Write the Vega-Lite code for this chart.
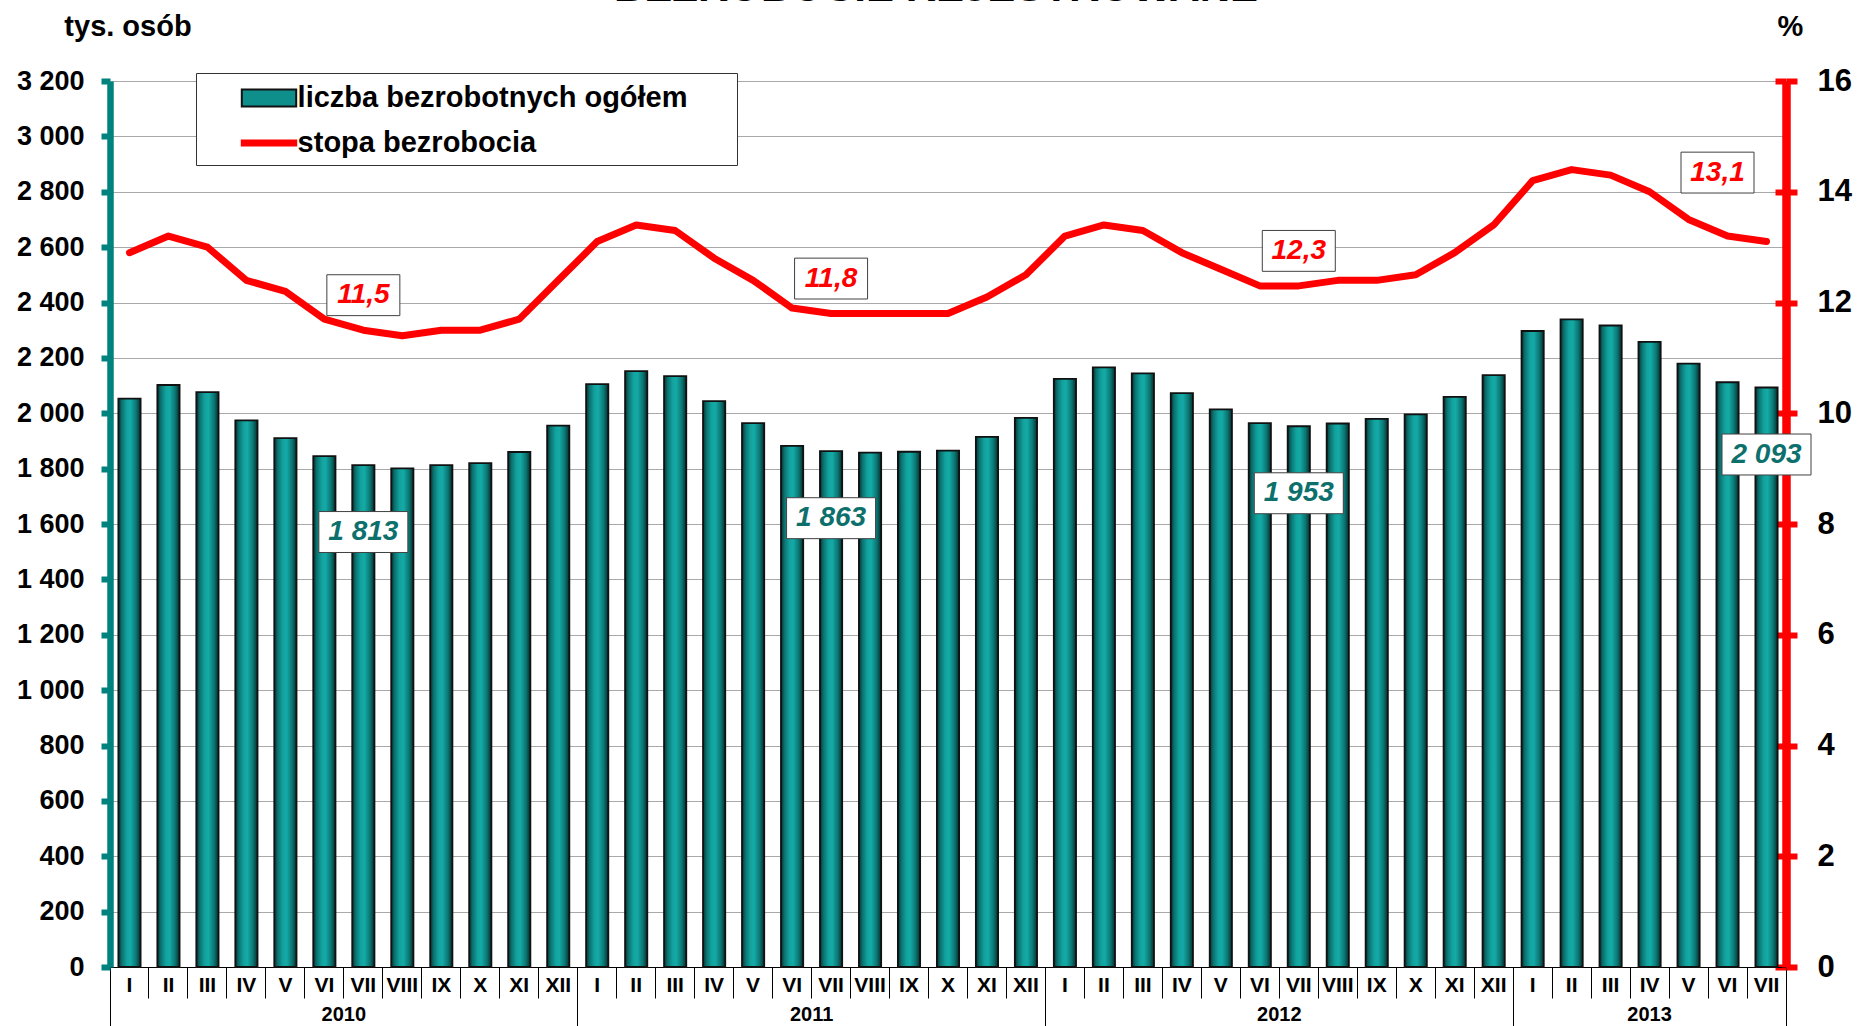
{
  "$schema": "https://vega.github.io/schema/vega-lite/v6.json",
  "width": 1676,
  "height": 886,
  "autosize": {"type": "none"},
  "padding": {"left": 110, "top": 81, "right": 72, "bottom": 59},
  "background": "white",
  "title": {"text": "BEZROBOCIE REJESTROWANE", "fontSize": 42, "fontWeight": "bold", "color": "black", "anchor": "middle", "dx": -12, "offset": 2},
  "config": {
    "font": "Liberation Sans",
    "view": {"stroke": null},
    "locale": {"number": {"decimal": ",", "thousands": " ", "grouping": [3], "currency": ["", " zł"]}},
    "axis": {"labelFontWeight": "bold", "labelColor": "black", "titleFontWeight": "bold", "titleColor": "black", "labelOverlap": false, "labelBound": false, "labelFlush": false}
  },
  "datasets": {
    "dane": [
      {"okres": "2010 I", "rok": "2010", "mies": "I", "liczba": 2053, "stopa": 12.9},
      {"okres": "2010 II", "rok": "2010", "mies": "II", "liczba": 2102, "stopa": 13.2},
      {"okres": "2010 III", "rok": "2010", "mies": "III", "liczba": 2076, "stopa": 13.0},
      {"okres": "2010 IV", "rok": "2010", "mies": "IV", "liczba": 1974, "stopa": 12.4},
      {"okres": "2010 V", "rok": "2010", "mies": "V", "liczba": 1910, "stopa": 12.2},
      {"okres": "2010 VI", "rok": "2010", "mies": "VI", "liczba": 1845, "stopa": 11.7},
      {"okres": "2010 VII", "rok": "2010", "mies": "VII", "liczba": 1813, "stopa": 11.5},
      {"okres": "2010 VIII", "rok": "2010", "mies": "VIII", "liczba": 1801, "stopa": 11.4},
      {"okres": "2010 IX", "rok": "2010", "mies": "IX", "liczba": 1813, "stopa": 11.5},
      {"okres": "2010 X", "rok": "2010", "mies": "X", "liczba": 1820, "stopa": 11.5},
      {"okres": "2010 XI", "rok": "2010", "mies": "XI", "liczba": 1860, "stopa": 11.7},
      {"okres": "2010 XII", "rok": "2010", "mies": "XII", "liczba": 1955, "stopa": 12.4},
      {"okres": "2011 I", "rok": "2011", "mies": "I", "liczba": 2105, "stopa": 13.1},
      {"okres": "2011 II", "rok": "2011", "mies": "II", "liczba": 2152, "stopa": 13.4},
      {"okres": "2011 III", "rok": "2011", "mies": "III", "liczba": 2134, "stopa": 13.3},
      {"okres": "2011 IV", "rok": "2011", "mies": "IV", "liczba": 2044, "stopa": 12.8},
      {"okres": "2011 V", "rok": "2011", "mies": "V", "liczba": 1964, "stopa": 12.4},
      {"okres": "2011 VI", "rok": "2011", "mies": "VI", "liczba": 1882, "stopa": 11.9},
      {"okres": "2011 VII", "rok": "2011", "mies": "VII", "liczba": 1863, "stopa": 11.8},
      {"okres": "2011 VIII", "rok": "2011", "mies": "VIII", "liczba": 1858, "stopa": 11.8},
      {"okres": "2011 IX", "rok": "2011", "mies": "IX", "liczba": 1861, "stopa": 11.8},
      {"okres": "2011 X", "rok": "2011", "mies": "X", "liczba": 1865, "stopa": 11.8},
      {"okres": "2011 XI", "rok": "2011", "mies": "XI", "liczba": 1915, "stopa": 12.1},
      {"okres": "2011 XII", "rok": "2011", "mies": "XII", "liczba": 1983, "stopa": 12.5},
      {"okres": "2012 I", "rok": "2012", "mies": "I", "liczba": 2124, "stopa": 13.2},
      {"okres": "2012 II", "rok": "2012", "mies": "II", "liczba": 2166, "stopa": 13.4},
      {"okres": "2012 III", "rok": "2012", "mies": "III", "liczba": 2144, "stopa": 13.3},
      {"okres": "2012 IV", "rok": "2012", "mies": "IV", "liczba": 2073, "stopa": 12.9},
      {"okres": "2012 V", "rok": "2012", "mies": "V", "liczba": 2014, "stopa": 12.6},
      {"okres": "2012 VI", "rok": "2012", "mies": "VI", "liczba": 1964, "stopa": 12.3},
      {"okres": "2012 VII", "rok": "2012", "mies": "VII", "liczba": 1953, "stopa": 12.3},
      {"okres": "2012 VIII", "rok": "2012", "mies": "VIII", "liczba": 1963, "stopa": 12.4},
      {"okres": "2012 IX", "rok": "2012", "mies": "IX", "liczba": 1980, "stopa": 12.4},
      {"okres": "2012 X", "rok": "2012", "mies": "X", "liczba": 1996, "stopa": 12.5},
      {"okres": "2012 XI", "rok": "2012", "mies": "XI", "liczba": 2059, "stopa": 12.9},
      {"okres": "2012 XII", "rok": "2012", "mies": "XII", "liczba": 2138, "stopa": 13.4},
      {"okres": "2013 I", "rok": "2013", "mies": "I", "liczba": 2297, "stopa": 14.2},
      {"okres": "2013 II", "rok": "2013", "mies": "II", "liczba": 2339, "stopa": 14.4},
      {"okres": "2013 III", "rok": "2013", "mies": "III", "liczba": 2317, "stopa": 14.3},
      {"okres": "2013 IV", "rok": "2013", "mies": "IV", "liczba": 2258, "stopa": 14.0},
      {"okres": "2013 V", "rok": "2013", "mies": "V", "liczba": 2179, "stopa": 13.5},
      {"okres": "2013 VI", "rok": "2013", "mies": "VI", "liczba": 2112, "stopa": 13.2},
      {"okres": "2013 VII", "rok": "2013", "mies": "VII", "liczba": 2093, "stopa": 13.1}
    ]
  },
  "layer": [
    {
      "data": {"name": "dane"},
      "encoding": {
        "x": {
          "field": "okres", "type": "nominal", "sort": null,
          "scale": {"type": "band", "paddingInner": 0, "paddingOuter": 0,
            "domain": ["2010 I","2010 II","2010 III","2010 IV","2010 V","2010 VI","2010 VII","2010 VIII","2010 IX","2010 X","2010 XI","2010 XII","2011 I","2011 II","2011 III","2011 IV","2011 V","2011 VI","2011 VII","2011 VIII","2011 IX","2011 X","2011 XI","2011 XII","2012 I","2012 II","2012 III","2012 IV","2012 V","2012 VI","2012 VII","2012 VIII","2012 IX","2012 X","2012 XI","2012 XII","2013 I","2013 II","2013 III","2013 IV","2013 V","2013 VI","2013 VII"]},
          "axis": {"orient": "bottom", "bandPosition": 0, "labelExpr": "slice(datum.value, 5)", "labelAngle": 0, "labelFontSize": 21, "labelBaseline": "middle", "labelPadding": -13, "tickSize": 31, "tickColor": "black", "tickWidth": 1, "domainColor": "black", "domainWidth": 1.2, "title": null, "grid": false}
        }
      },
      "layer": [
        {
          "mark": {"type": "bar", "width": {"band": 0.57},
            "color": {"gradient": "linear", "x1": 0, "x2": 1, "y1": 0, "y2": 0, "stops": [
              {"offset": 0, "color": "#062f2e"}, {"offset": 0.15, "color": "#0b706e"}, {"offset": 0.38, "color": "#12a29e"},
              {"offset": 0.55, "color": "#14aaa6"}, {"offset": 0.8, "color": "#0b7673"}, {"offset": 1, "color": "#042e2d"}]},
            "stroke": "#111111", "strokeWidth": 1.8},
          "encoding": {
            "y": {"field": "liczba", "type": "quantitative", "scale": {"domain": [0, 3200], "nice": false},
              "axis": {"orient": "left", "values": [0,200,400,600,800,1000,1200,1400,1600,1800,2000,2200,2400,2600,2800,3000,3200],
                "labelExpr": "replace(format(datum.value, ',.0f'), ',', ' ')", "labelFontSize": 27, "labelPadding": 17,
                "tickSize": 9, "tickWidth": 6, "tickColor": "#00827f", "domainColor": "#00827f", "domainWidth": 6.5,
                "grid": true, "gridColor": "#a9a9a9", "gridWidth": 1.2,
                "title": "tys. osób", "titleAngle": 0, "titleX": 17.5, "titleY": -55, "titleAlign": "center", "titleBaseline": "middle", "titleFontSize": 29}}
          }
        },
        {
          "transform": [{"filter": "datum.mies === 'VII'"}],
          "encoding": {"y": {"field": "liczba", "type": "quantitative"}},
          "layer": [
            {"mark": {"type": "point", "shape": "M-1,-0.46H1V0.46H-1Z", "size": 7921, "filled": true, "fill": "white", "stroke": "#404040", "strokeWidth": 1, "opacity": 1, "yOffset": 67}},
            {"mark": {"type": "text", "fontSize": 28, "fontWeight": "bold", "fontStyle": "italic", "color": "#0d706c", "yOffset": 67},
             "encoding": {"text": {"field": "liczba", "type": "quantitative", "format": ",.0f"}}}
          ]
        },
        {
          "data": {"values": [{"seria": "liczba bezrobotnych ogółem"}, {"seria": "stopa bezrobocia"}]},
          "transform": [{"filter": "false"}],
          "mark": {"type": "point", "filled": true, "strokeWidth": 2, "opacity": 1},
          "encoding": {
            "color": {"field": "seria", "type": "nominal", "scale": {"domain": ["liczba bezrobotnych ogółem", "stopa bezrobocia"], "range": ["#0f8f8b", "#ff0000"]},
              "legend": {"title": null, "orient": "none", "legendX": 86, "legendY": -8, "padding": 7, "strokeColor": "#333333", "fillColor": "white", "symbolSize": 1156, "symbolOffset": 48, "labelOffset": 10.6, "rowPadding": 12, "labelFontSize": 29, "labelFontWeight": "bold", "labelColor": "black", "labelLimit": 0, "symbolStrokeWidth": 2, "symbolOpacity": 1, "labelExpr": "datum.label + '\u2800\u2800'"}},
            "shape": {"field": "seria", "type": "nominal", "scale": {"domain": ["liczba bezrobotnych ogółem", "stopa bezrobocia"], "range": ["M-1.6,-0.5H1.6V0.5H-1.6Z", "M-1.6,-0.15H1.6V0.15H-1.6Z"]},
              "legend": {"title": null, "orient": "none", "legendX": 86, "legendY": -8, "padding": 7, "strokeColor": "#333333", "fillColor": "white", "symbolSize": 1156, "symbolOffset": 48, "labelOffset": 10.6, "rowPadding": 12, "labelFontSize": 29, "labelFontWeight": "bold", "labelColor": "black", "labelLimit": 0, "symbolStrokeWidth": 2, "symbolOpacity": 1, "labelExpr": "datum.label + '\u2800\u2800'"}},
            "stroke": {"field": "seria", "type": "nominal", "scale": {"domain": ["liczba bezrobotnych ogółem", "stopa bezrobocia"], "range": ["#111111", "#ff0000"]},
              "legend": {"title": null, "orient": "none", "legendX": 86, "legendY": -8, "padding": 7, "strokeColor": "#333333", "fillColor": "white", "symbolSize": 1156, "symbolOffset": 48, "labelOffset": 10.6, "rowPadding": 12, "labelFontSize": 29, "labelFontWeight": "bold", "labelColor": "black", "labelLimit": 0, "symbolStrokeWidth": 2, "symbolOpacity": 1, "labelExpr": "datum.label + '\u2800\u2800'"}}
          }
        }
      ]
    },
    {
      "data": {"name": "dane"},
      "encoding": {
        "x": {
          "field": "okres", "type": "nominal", "sort": null,
          "scale": {"type": "band", "paddingInner": 0, "paddingOuter": 0,
            "domain": ["2010 I","2010 II","2010 III","2010 IV","2010 V","2010 VI","2010 VII","2010 VIII","2010 IX","2010 X","2010 XI","2010 XII","2011 I","2011 II","2011 III","2011 IV","2011 V","2011 VI","2011 VII","2011 VIII","2011 IX","2011 X","2011 XI","2011 XII","2012 I","2012 II","2012 III","2012 IV","2012 V","2012 VI","2012 VII","2012 VIII","2012 IX","2012 X","2012 XI","2012 XII","2013 I","2013 II","2013 III","2013 IV","2013 V","2013 VI","2013 VII"]},
          "axis": {"orient": "bottom", "bandPosition": 1, "tickExtra": true, "tickSize": 59, "tickColor": "black", "tickWidth": 1,
            "tickOpacity": {"condition": {"test": "!isString(datum.value) || slice(datum.value, 5) === 'XII' || datum.value === '2013 VII'", "value": 1}, "value": 0},
            "domain": false,
            "labelExpr": "!isString(datum.value) ? '' : ((slice(datum.value, 5) === 'VI' && datum.value !== '2013 VI') || datum.value === '2013 IV') ? slice(datum.value, 0, 4) : ''",
            "labelOffset": {"condition": {"test": "datum.value === '2013 IV'", "value": 0}, "value": 19.49},
            "labelAngle": 0, "labelFontSize": 20, "labelBaseline": "middle", "labelPadding": -12, "title": null, "grid": false}
        },
        "y": {"field": "stopa", "type": "quantitative", "scale": {"domain": [0, 16], "nice": false},
          "axis": {"orient": "right", "values": [0,2,4,6,8,10,12,14,16], "labelFontSize": 31, "labelPadding": 20,
            "tickSize": 11, "tickWidth": 6, "tickColor": "#ff0000", "domainColor": "#ff0000", "domainWidth": 8.5,
            "grid": true, "gridColor": "#ff0000", "gridWidth": 6, "gridDash": [11, 4000],
            "title": "%", "titleAngle": 0, "titleX": 4, "titleY": -55, "titleAlign": "center", "titleBaseline": "middle", "titleFontSize": 29}}
      },
      "layer": [
        {"mark": {"type": "line", "color": "#ff0000", "strokeWidth": 7, "strokeCap": "round", "strokeJoin": "round"}},
        {
          "transform": [{"filter": "datum.mies === 'VII' && datum.rok !== '2013'"}],
          "layer": [
            {"mark": {"type": "point", "shape": "M-1,-0.56H1V0.56H-1Z", "size": 5329, "filled": true, "fill": "white", "stroke": "#404040", "strokeWidth": 1, "opacity": 1, "yOffset": -35}},
            {"mark": {"type": "text", "fontSize": 28, "fontWeight": "bold", "fontStyle": "italic", "color": "#ff0000", "yOffset": -35},
             "encoding": {"text": {"field": "stopa", "type": "quantitative", "format": ".1f"}}}
          ]
        },
        {
          "transform": [{"filter": "datum.okres === '2013 VII'"}],
          "layer": [
            {"mark": {"type": "point", "shape": "M-1,-0.56H1V0.56H-1Z", "size": 5329, "filled": true, "fill": "white", "stroke": "#404040", "strokeWidth": 1, "opacity": 1, "xOffset": -49, "yOffset": -69}},
            {"mark": {"type": "text", "fontSize": 28, "fontWeight": "bold", "fontStyle": "italic", "color": "#ff0000", "xOffset": -49, "yOffset": -69},
             "encoding": {"text": {"field": "stopa", "type": "quantitative", "format": ".1f"}}}
          ]
        }
      ]
    }
  ],
  "resolve": {"scale": {"y": "independent"}, "axis": {"x": "independent", "y": "independent"}}
}
